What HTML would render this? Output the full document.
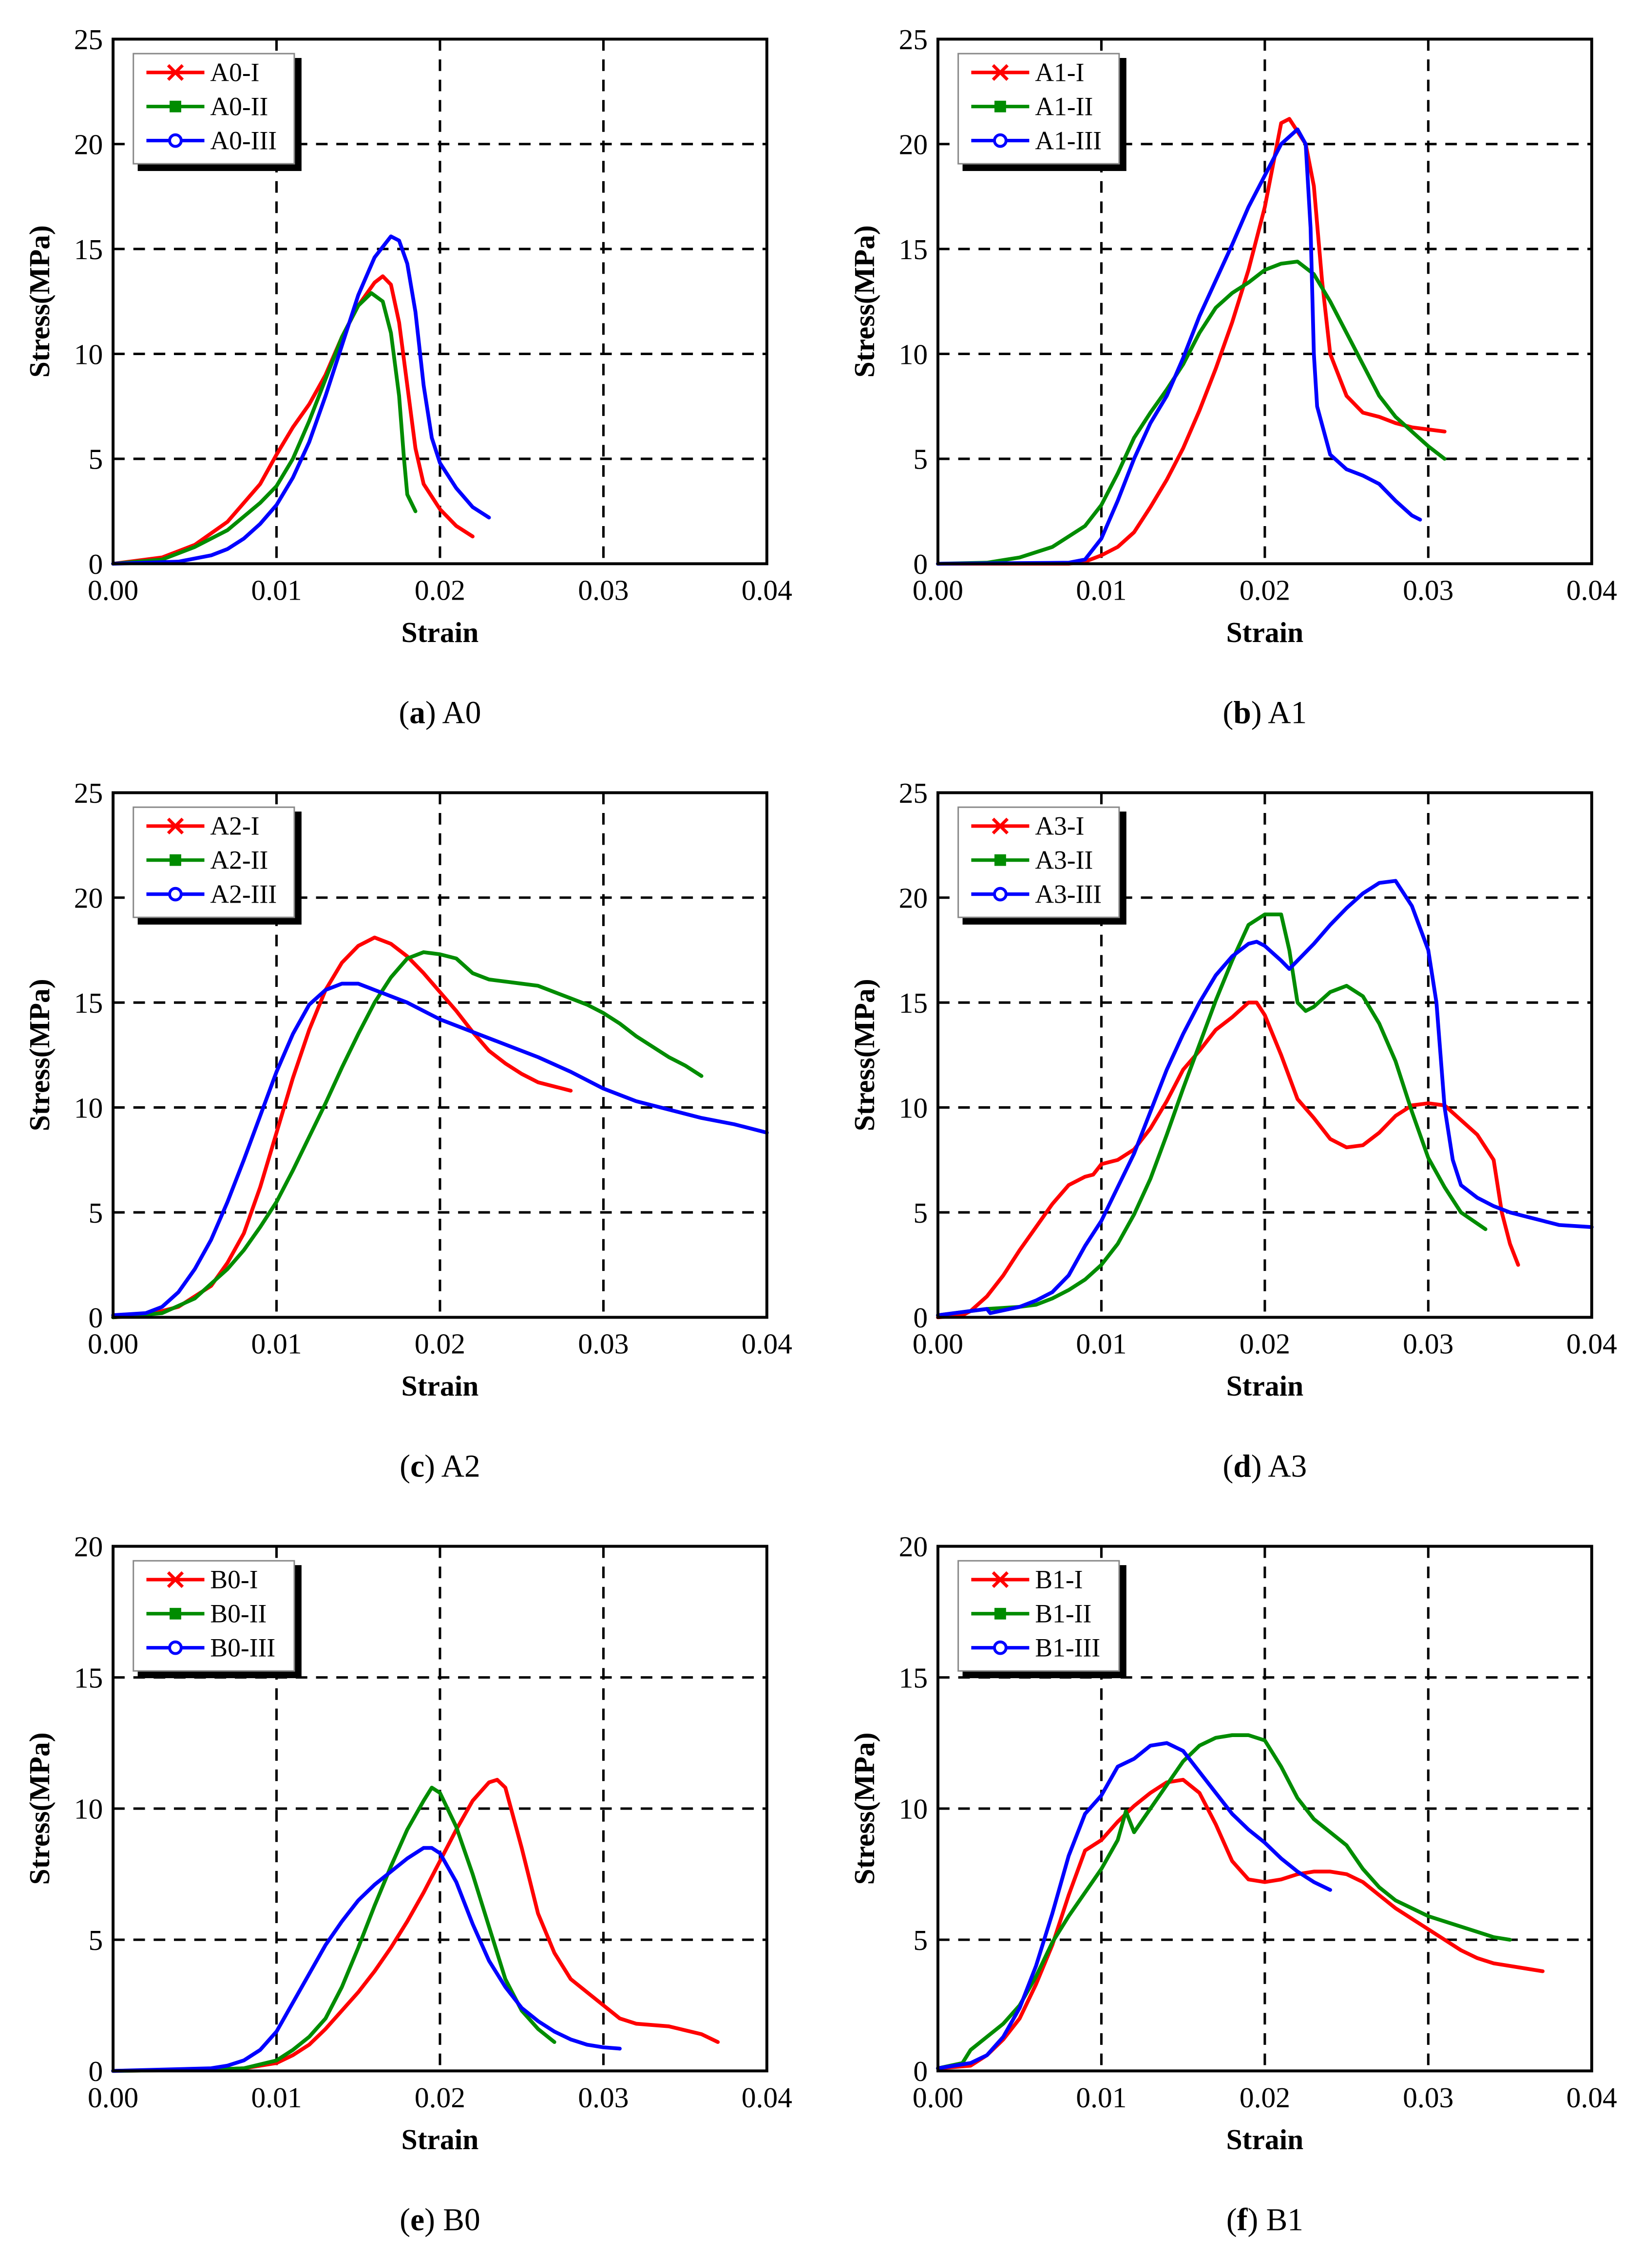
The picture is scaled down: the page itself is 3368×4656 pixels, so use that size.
<!DOCTYPE html>
<html><head><meta charset="utf-8"><style>
html,body{margin:0;padding:0;background:#fff}
svg{display:block}
svg text{font-family:"Liberation Serif","Times New Roman",serif}
</style></head><body>
<svg id="fig" width="3368" height="4656" viewBox="0 0 1132 1565" preserveAspectRatio="none" xmlns="http://www.w3.org/2000/svg"></svg>
<script>
// ---- data: [strain, stress] ----
const xTicks = ["0.00","0.01","0.02","0.03","0.04"];
const xTickVals = [0,0.01,0.02,0.03,0.04];
const yTicksA = [0,5,10,15,20,25];
const yTicksB = [0,5,10,15,20];

const a0I = [[0,0],[0.003,0.3],[0.005,0.9],[0.007,2],[0.009,3.8],[0.010,5.2],[0.011,6.5],[0.012,7.6],[0.013,9],[0.014,10.8],[0.015,12.3],[0.016,13.4],[0.0165,13.7],[0.017,13.3],[0.0175,11.5],[0.018,8.5],[0.0185,5.5],[0.019,3.8],[0.020,2.6],[0.021,1.8],[0.022,1.3]];
const a0II = [[0,0],[0.003,0.2],[0.005,0.8],[0.007,1.6],[0.009,2.9],[0.010,3.7],[0.011,5],[0.012,6.8],[0.013,8.8],[0.014,10.8],[0.015,12.3],[0.0158,12.9],[0.0165,12.5],[0.017,11],[0.0175,8],[0.0178,5],[0.018,3.3],[0.0185,2.5]];
const a0III = [[0,0],[0.004,0.1],[0.006,0.4],[0.007,0.7],[0.008,1.2],[0.009,1.9],[0.010,2.8],[0.011,4.1],[0.012,5.8],[0.013,8],[0.014,10.4],[0.015,12.8],[0.016,14.6],[0.017,15.6],[0.0175,15.4],[0.018,14.3],[0.0185,12],[0.019,8.5],[0.0195,6],[0.020,4.8],[0.021,3.6],[0.022,2.7],[0.023,2.2]];

const a1I = [[0,0],[0.008,0],[0.009,0.1],[0.010,0.4],[0.011,0.8],[0.012,1.5],[0.013,2.7],[0.014,4],[0.015,5.5],[0.016,7.3],[0.017,9.3],[0.018,11.5],[0.019,14],[0.020,17],[0.0205,19],[0.021,21],[0.0215,21.2],[0.022,20.6],[0.0225,20],[0.023,18],[0.0235,13.5],[0.024,10],[0.025,8],[0.026,7.2],[0.027,7],[0.028,6.7],[0.029,6.5],[0.030,6.4],[0.031,6.3]];
const a1II = [[0,0],[0.003,0.05],[0.005,0.3],[0.007,0.8],[0.009,1.8],[0.010,2.8],[0.011,4.3],[0.012,6],[0.013,7.2],[0.014,8.3],[0.015,9.5],[0.016,11],[0.017,12.2],[0.018,12.9],[0.019,13.4],[0.020,14],[0.021,14.3],[0.022,14.4],[0.023,13.8],[0.024,12.5],[0.025,11],[0.026,9.5],[0.027,8],[0.028,7],[0.029,6.3],[0.030,5.6],[0.031,5.0]];
const a1III = [[0,0],[0.008,0.05],[0.009,0.2],[0.010,1.2],[0.011,3],[0.012,5],[0.013,6.7],[0.014,8],[0.015,9.8],[0.016,11.8],[0.017,13.5],[0.018,15.2],[0.019,17],[0.020,18.5],[0.021,20],[0.022,20.7],[0.0225,20],[0.0228,16],[0.023,10],[0.0232,7.5],[0.024,5.2],[0.025,4.5],[0.026,4.2],[0.027,3.8],[0.028,3],[0.029,2.3],[0.0295,2.1]];

const a2I = [[0,0],[0.002,0.1],[0.004,0.5],[0.006,1.5],[0.007,2.6],[0.008,4],[0.009,6.2],[0.010,8.8],[0.011,11.4],[0.012,13.7],[0.013,15.6],[0.014,16.9],[0.015,17.7],[0.016,18.1],[0.017,17.8],[0.018,17.2],[0.019,16.4],[0.020,15.5],[0.021,14.6],[0.022,13.6],[0.023,12.7],[0.024,12.1],[0.025,11.6],[0.026,11.2],[0.027,11],[0.028,10.8]];
const a2II = [[0,0],[0.003,0.2],[0.005,0.9],[0.006,1.6],[0.007,2.3],[0.008,3.2],[0.009,4.3],[0.010,5.5],[0.011,7],[0.012,8.6],[0.013,10.2],[0.014,11.9],[0.015,13.5],[0.016,15],[0.017,16.2],[0.018,17.1],[0.019,17.4],[0.020,17.3],[0.021,17.1],[0.022,16.4],[0.023,16.1],[0.024,16],[0.025,15.9],[0.026,15.8],[0.027,15.5],[0.028,15.2],[0.029,14.9],[0.030,14.5],[0.031,14],[0.032,13.4],[0.033,12.9],[0.034,12.4],[0.035,12],[0.036,11.5]];
const a2III = [[0,0.1],[0.002,0.2],[0.003,0.5],[0.004,1.2],[0.005,2.3],[0.006,3.7],[0.007,5.5],[0.008,7.5],[0.009,9.6],[0.010,11.7],[0.011,13.5],[0.012,14.9],[0.013,15.6],[0.014,15.9],[0.015,15.9],[0.016,15.6],[0.017,15.3],[0.018,15],[0.019,14.6],[0.020,14.2],[0.022,13.6],[0.024,13],[0.026,12.4],[0.028,11.7],[0.030,10.9],[0.032,10.3],[0.034,9.9],[0.036,9.5],[0.038,9.2],[0.040,8.8]];

const a3I = [[0,0],[0.0015,0.1],[0.002,0.3],[0.003,1],[0.004,2],[0.005,3.2],[0.006,4.3],[0.007,5.4],[0.008,6.3],[0.009,6.7],[0.0095,6.8],[0.010,7.3],[0.011,7.5],[0.012,8],[0.013,9],[0.014,10.3],[0.015,11.8],[0.016,12.7],[0.017,13.7],[0.018,14.3],[0.019,15],[0.0195,15],[0.020,14.4],[0.021,12.5],[0.022,10.4],[0.023,9.5],[0.024,8.5],[0.025,8.1],[0.026,8.2],[0.027,8.8],[0.028,9.6],[0.029,10.1],[0.030,10.2],[0.031,10.1],[0.032,9.4],[0.033,8.7],[0.034,7.5],[0.0345,5],[0.035,3.5],[0.0355,2.5]];
const a3II = [[0,0.1],[0.003,0.4],[0.005,0.5],[0.006,0.6],[0.007,0.9],[0.008,1.3],[0.009,1.8],[0.010,2.5],[0.011,3.5],[0.012,4.9],[0.013,6.6],[0.014,8.7],[0.015,10.9],[0.016,13],[0.017,15.1],[0.018,17],[0.019,18.7],[0.020,19.2],[0.021,19.2],[0.0215,17.5],[0.022,15],[0.0225,14.6],[0.023,14.8],[0.024,15.5],[0.025,15.8],[0.026,15.3],[0.027,14],[0.028,12.2],[0.029,9.8],[0.030,7.6],[0.031,6.2],[0.032,5],[0.0335,4.2]];
const a3III = [[0,0.1],[0.003,0.4],[0.0032,0.2],[0.005,0.5],[0.006,0.8],[0.007,1.2],[0.008,2],[0.009,3.4],[0.010,4.6],[0.011,6.2],[0.012,7.8],[0.013,9.8],[0.014,11.8],[0.015,13.5],[0.016,15],[0.017,16.3],[0.018,17.2],[0.019,17.8],[0.0195,17.9],[0.020,17.7],[0.021,17],[0.0215,16.6],[0.022,17],[0.023,17.8],[0.024,18.7],[0.025,19.5],[0.026,20.2],[0.027,20.7],[0.028,20.8],[0.029,19.6],[0.030,17.5],[0.0305,15],[0.031,10],[0.0315,7.5],[0.032,6.3],[0.033,5.7],[0.034,5.3],[0.035,5],[0.036,4.8],[0.037,4.6],[0.038,4.4],[0.040,4.3]];

const b0I = [[0,0],[0.006,0.05],[0.008,0.1],[0.010,0.3],[0.011,0.6],[0.012,1],[0.013,1.6],[0.014,2.3],[0.015,3],[0.016,3.8],[0.017,4.7],[0.018,5.7],[0.019,6.8],[0.020,8],[0.021,9.2],[0.022,10.3],[0.023,11],[0.0235,11.1],[0.024,10.8],[0.025,8.5],[0.026,6],[0.027,4.5],[0.028,3.5],[0.029,3],[0.030,2.5],[0.031,2],[0.032,1.8],[0.034,1.7],[0.036,1.4],[0.037,1.1]];
const b0II = [[0,0],[0.006,0.05],[0.008,0.1],[0.010,0.4],[0.011,0.8],[0.012,1.3],[0.013,2],[0.014,3.2],[0.015,4.7],[0.016,6.3],[0.017,7.8],[0.018,9.2],[0.019,10.3],[0.0195,10.8],[0.020,10.6],[0.021,9.3],[0.022,7.5],[0.023,5.5],[0.024,3.5],[0.025,2.3],[0.026,1.6],[0.027,1.1]];
const b0III = [[0,0],[0.006,0.1],[0.007,0.2],[0.008,0.4],[0.009,0.8],[0.010,1.5],[0.011,2.6],[0.012,3.7],[0.013,4.8],[0.014,5.7],[0.015,6.5],[0.016,7.1],[0.017,7.6],[0.018,8.1],[0.019,8.5],[0.0195,8.5],[0.020,8.3],[0.021,7.2],[0.022,5.6],[0.023,4.2],[0.024,3.2],[0.025,2.4],[0.026,1.9],[0.027,1.5],[0.028,1.2],[0.029,1.0],[0.030,0.9],[0.031,0.85]];

const b1I = [[0,0.1],[0.002,0.2],[0.003,0.6],[0.004,1.2],[0.005,2],[0.006,3.3],[0.007,4.8],[0.008,6.7],[0.009,8.4],[0.010,8.8],[0.011,9.5],[0.012,10.1],[0.013,10.6],[0.014,11],[0.015,11.1],[0.016,10.6],[0.017,9.4],[0.018,8],[0.019,7.3],[0.020,7.2],[0.021,7.3],[0.022,7.5],[0.023,7.6],[0.024,7.6],[0.025,7.5],[0.026,7.2],[0.027,6.7],[0.028,6.2],[0.029,5.8],[0.030,5.4],[0.031,5],[0.032,4.6],[0.033,4.3],[0.034,4.1],[0.035,4],[0.036,3.9],[0.037,3.8]];
const b1II = [[0,0.1],[0.0015,0.3],[0.002,0.8],[0.003,1.3],[0.004,1.8],[0.005,2.5],[0.006,3.6],[0.007,4.9],[0.008,5.9],[0.009,6.8],[0.010,7.7],[0.011,8.8],[0.0115,9.9],[0.012,9.1],[0.013,10],[0.014,10.9],[0.015,11.8],[0.016,12.4],[0.017,12.7],[0.018,12.8],[0.019,12.8],[0.020,12.6],[0.021,11.6],[0.022,10.4],[0.023,9.6],[0.024,9.1],[0.025,8.6],[0.026,7.7],[0.027,7],[0.028,6.5],[0.029,6.2],[0.030,5.9],[0.031,5.7],[0.032,5.5],[0.033,5.3],[0.034,5.1],[0.035,5]];
const b1III = [[0,0.1],[0.002,0.3],[0.003,0.6],[0.004,1.3],[0.005,2.4],[0.006,4],[0.007,6],[0.008,8.2],[0.009,9.8],[0.010,10.5],[0.011,11.6],[0.012,11.9],[0.013,12.4],[0.014,12.5],[0.015,12.2],[0.016,11.4],[0.017,10.6],[0.018,9.8],[0.019,9.2],[0.020,8.7],[0.021,8.1],[0.022,7.6],[0.023,7.2],[0.024,6.9]];

const panels = [
 {id:"a0", letter:"a", name:"A0", x0:78,  y0:27,   yTicks:yTicksA, series:[a0I,a0II,a0III]},
 {id:"a1", letter:"b", name:"A1", x0:647, y0:27,   yTicks:yTicksA, series:[a1I,a1II,a1III]},
 {id:"a2", letter:"c", name:"A2", x0:78,  y0:547,  yTicks:yTicksA, series:[a2I,a2II,a2III]},
 {id:"a3", letter:"d", name:"A3", x0:647, y0:547,  yTicks:yTicksA, series:[a3I,a3II,a3III]},
 {id:"b0", letter:"e", name:"B0", x0:78,  y0:1067, yTicks:yTicksB, series:[b0I,b0II,b0III]},
 {id:"b1", letter:"f", name:"B1", x0:647, y0:1067, yTicks:yTicksB, series:[b1I,b1II,b1III]}
];
const colors = ["#ff0000","#008c00","#0000ff"];
const suffix = ["I","II","III"];
const W = 451, H = 362;
const FONT = '"Liberation Serif", "Times New Roman", serif';

const svg = document.getElementById('fig');
const NS = "http://www.w3.org/2000/svg";
function mk(tag, attrs, parent){
  const e = document.createElementNS(NS, tag);
  for (const k in attrs) e.setAttribute(k, attrs[k]);
  if (tag === 'text') e.style.fontFamily = FONT;
  parent.appendChild(e);
  return e;
}

panels.forEach(p => {
  const ymax = p.yTicks[p.yTicks.length-1];
  const sx = v => p.x0 + v/0.04*W;
  const sy = v => p.y0 + H - v/ymax*H;
  const g = mk('g', {}, svg);
  
  

  xTickVals.slice(1, -1).forEach(v => {
    const l = mk('line', {x1:sx(v), x2:sx(v), y1:p.y0, y2:p.y0+H, stroke:'#000', 'stroke-width':1.7, 'stroke-dasharray':'8 6'}, g);
    
    
  });
  p.yTicks.slice(1, -1).forEach(v => {
    const l = mk('line', {x1:p.x0, x2:p.x0+W, y1:sy(v), y2:sy(v), stroke:'#000', 'stroke-width':1.7, 'stroke-dasharray':'8 6'}, g);
    
    
  });

  p.series.forEach((s, i) => {
    const pts = s.map(d => sx(d[0]).toFixed(2) + ',' + sy(d[1]).toFixed(2)).join(' ');
    const pl = mk('polyline', {points:pts, fill:'none', stroke:colors[i], 'stroke-width':2.6, 'stroke-linejoin':'round', 'stroke-linecap':'round'}, g);
    
    
  });

  const fr = mk('rect', {x:p.x0, y:p.y0, width:W, height:H, fill:'none', stroke:'#000', 'stroke-width':2}, g);
  
  

  xTickVals.forEach((v, i) => {
    const t = mk('text', {x:sx(v), y:p.y0+H+25, 'font-size':20, 'text-anchor':'middle'}, g);
    t.textContent = xTicks[i];
    
    
  });
  p.yTicks.forEach(v => {
    const t = mk('text', {x:p.x0-7, y:sy(v)+7, 'font-size':20, 'text-anchor':'end'}, g);
    t.textContent = String(v);
    
    
  });

  const xt = mk('text', {x:p.x0+W/2, y:p.y0+H+54, 'font-size':20, 'font-weight':'bold', 'text-anchor':'middle'}, g);
  xt.textContent = 'Strain';
  
  
  const yx = p.x0 - 44, yy = p.y0 + H/2;
  const yt = mk('text', {x:yx, y:yy, 'font-size':20, 'font-weight':'bold', 'text-anchor':'middle', transform:`rotate(-90 ${yx} ${yy})`}, g);
  yt.textContent = 'Stress(MPa)';
  
  

  const cap = mk('text', {x:p.x0+W/2, y:p.y0+H+110, 'font-size':22, 'text-anchor':'middle'}, g);
  cap.innerHTML = '(<tspan font-weight="bold">' + p.letter + '</tspan>) ' + p.name;
  
  

  const lg = mk('g', {}, g);
  
  
  const lx = p.x0 + 14, ly = p.y0 + 10;
  mk('rect', {x:lx+3, y:ly+3, width:113, height:78, fill:'#000'}, lg);
  mk('rect', {x:lx, y:ly, width:111, height:76, fill:'#fff', stroke:'#888', 'stroke-width':1}, lg);
  for (let i = 0; i < 3; i++) {
    const ey = ly + 13 + i*23.5;
    const ent = mk('g', {}, lg);
    
    
    mk('line', {x1:lx+9, x2:lx+49, y1:ey, y2:ey, stroke:colors[i], 'stroke-width':2.4}, ent);
    const mx = lx + 29;
    if (i === 0) {
      mk('path', {d:`M${mx-5},${ey-5}L${mx+5},${ey+5}M${mx-5},${ey+5}L${mx+5},${ey-5}`, stroke:colors[i], 'stroke-width':2.2, fill:'none'}, ent);
    } else if (i === 1) {
      mk('rect', {x:mx-4, y:ey-4, width:8, height:8, fill:colors[i]}, ent);
    } else {
      mk('circle', {cx:mx, cy:ey, r:4, fill:'#fff', stroke:colors[i], 'stroke-width':2}, ent);
    }
    const t = mk('text', {x:lx+53, y:ey+6, 'font-size':18}, ent);
    t.textContent = p.name + '-' + suffix[i];
  }
});
</script>
</body></html>
